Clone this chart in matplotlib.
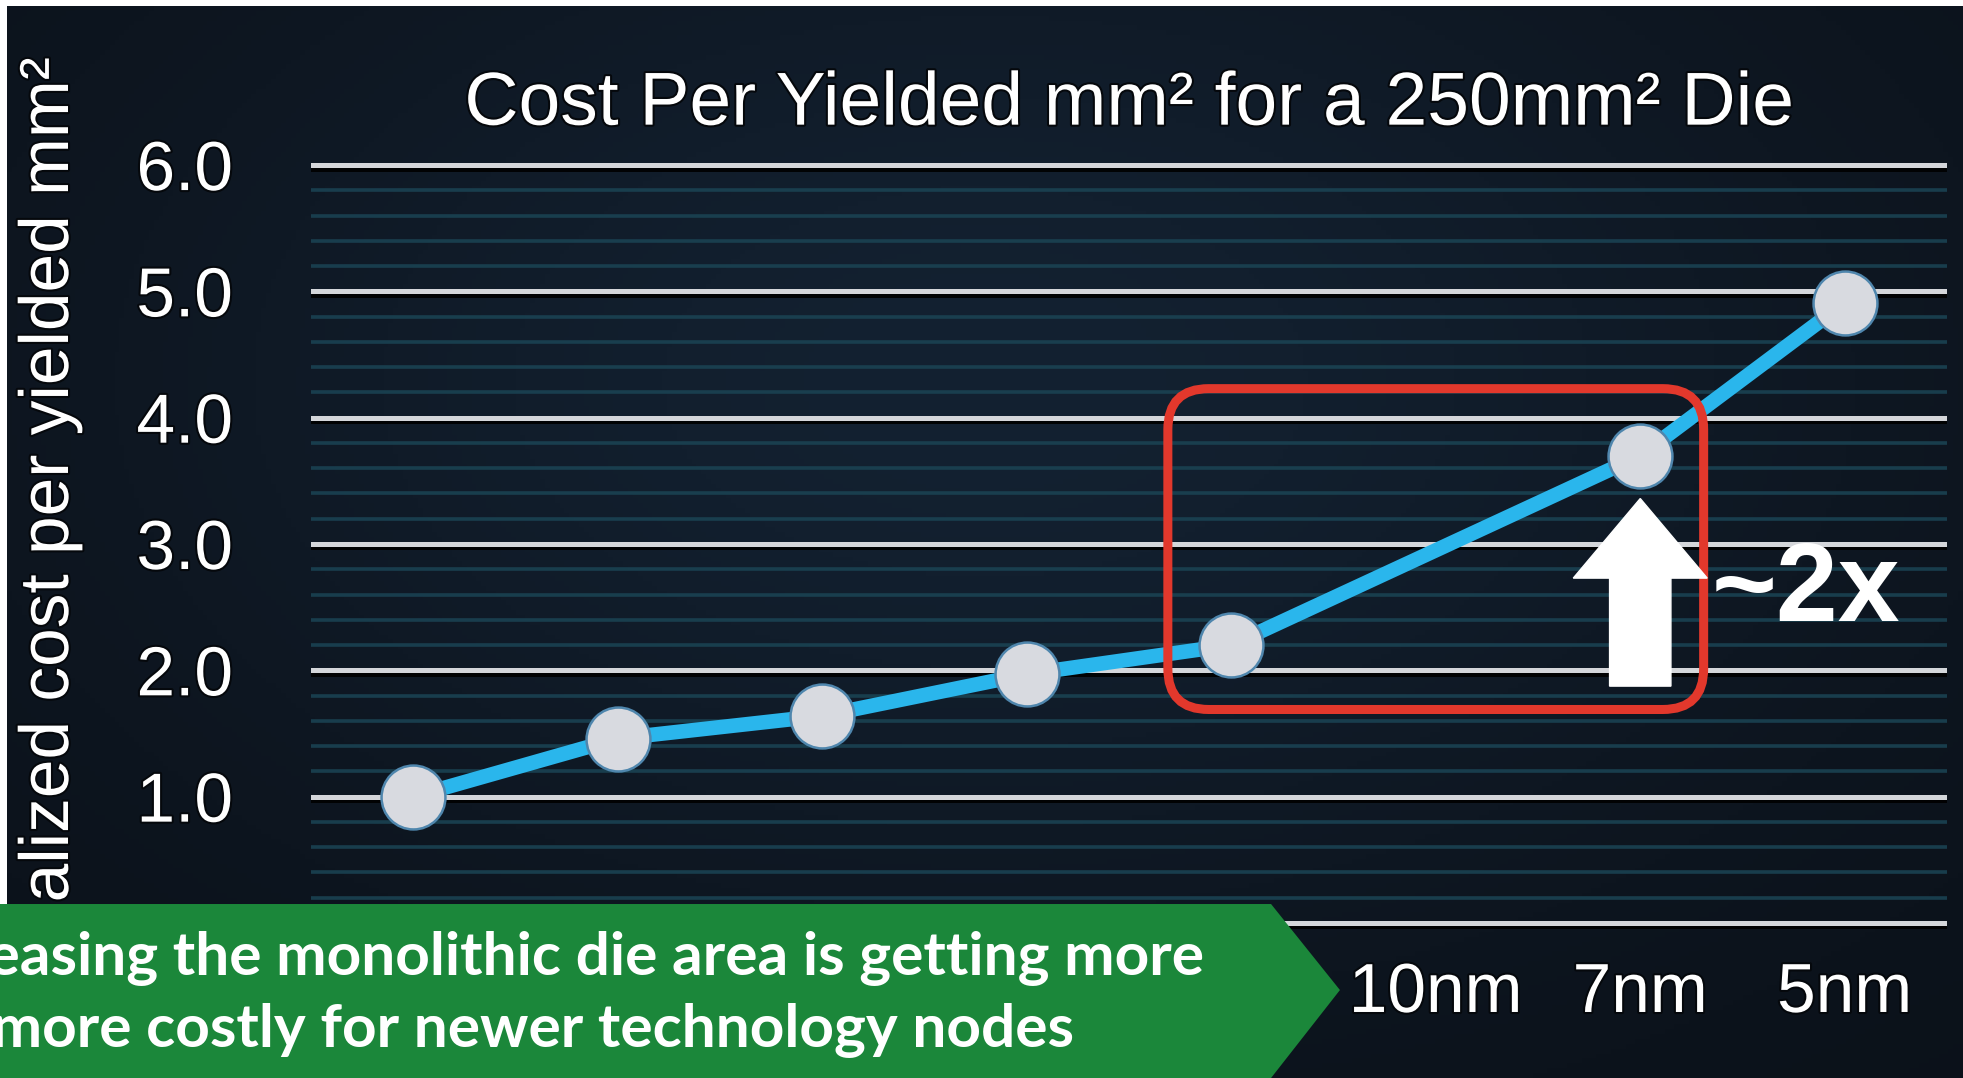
import numpy as np
from matplotlib import pyplot as plt
from matplotlib import patches
from matplotlib import patheffects as pe

# data (10nm has a label but no point)
nodes = ["", "", "", "", "", "10nm", "7nm", "5nm"]
cost = [1.0, 1.46, 1.64, 1.97, 2.20, None, 3.70, 4.91]
y_ticks = [1.0, 2.0, 3.0, 4.0, 5.0, 6.0]

plt.rcParams['font.family'] = ['Liberation Sans', 'DejaVu Sans']

W, H = 1963, 1078
fig = plt.figure(figsize=(W / 100, H / 100), dpi=100, facecolor='white')

# dark slide background with a soft blue glow
bg = fig.add_axes([7 / W, 0, 1 - 7 / W, 1 - 6 / H])
gx, gy = np.meshgrid(np.linspace(0, 1, 400), np.linspace(0, 1, 220))
glow = np.exp(-(((gx - 0.5) / 0.45) ** 2 + ((gy - 0.35) / 0.5) ** 2))
dark = np.array([11, 17, 25]) / 255
light = np.array([19, 33, 49]) / 255
img = dark + glow[..., None] * (light - dark)
bg.imshow(img, aspect='auto', extent=(0, 1, 0, 1), origin='upper')
bg.axis('off')

ax = fig.add_axes([311 / W, 0.1321, (1947 - 311) / W, 0.7265])
ax.set_facecolor('none')
ax.set_xlim(-0.5, 7.5)
ax.set_ylim(-0.1, 6.1)

# minor and major grid lines
for v in np.arange(0.2, 6.0, 0.2):
    if abs(v - round(v)) > 0.01:
        ax.axhline(v, color='#1a4252', lw=2.6, alpha=0.9, zorder=1)
shadow = [pe.SimpleLineShadow(offset=(0, -2.5), shadow_color='black', alpha=0.9), pe.Normal()]
for v in [0.0] + y_ticks:
    ax.axhline(v, color='#d4d6da', lw=3.6, zorder=2, path_effects=shadow)

xs = [i for i, c in enumerate(cost) if c is not None]
ys = [c for c in cost if c is not None]
ax.plot(xs, ys, color='#2ab6ec', lw=10.5, zorder=3)
ax.plot(xs, ys, 'o', ms=46, mfc='#d8dae0', mec='#4f86ad', mew=1.8, zorder=4,
        linestyle='none', clip_on=False)

ax.set_yticks(y_ticks)
ax.set_yticklabels([f"{v:.1f}" for v in y_ticks])
ax.set_xticks(range(len(nodes)))
ax.set_xticklabels(nodes)
ax.tick_params(axis='both', length=0, colors='white')
ax.tick_params(axis='y', labelsize=50, pad=56)
ax.tick_params(axis='x', labelsize=50, pad=19)
for s in ax.spines.values():
    s.set_visible(False)
txt_fx = [pe.withStroke(linewidth=3, foreground='#05080c')]
for lab in ax.get_xticklabels() + ax.get_yticklabels():
    lab.set_path_effects(txt_fx)

fig.text(50 / W, 1 - 56 / H, "Normalized cost per yielded mm²", rotation=90,
         ha='center', va='top', color='white', fontsize=50, path_effects=txt_fx)
ax.set_title("Cost Per Yielded mm² for a 250mm² Die", color='white', fontsize=54,
             pad=20, path_effects=txt_fx)

# red highlight box around 14/16nm -> 7nm
x0, x1 = 4 - 0.31, 6 + 0.31
y0, y1 = cost[4] - 0.51, cost[6] + 0.53
box = patches.FancyBboxPatch((x0, y0), x1 - x0, y1 - y0,
                             boxstyle="round,pad=0,rounding_size=0.2",
                             mutation_aspect=1.62, fill=False,
                             ec='#e2382c', lw=6.5, zorder=5)
ax.add_patch(box)

arrow = patches.FancyArrow(6, 1.875, 0, 1.485, width=0.30, head_width=0.655,
                           head_length=0.63, length_includes_head=True,
                           color='white', zorder=6)
ax.add_patch(arrow)
ax.text(6.81, 2.62, "~2x", color='white', fontsize=80, fontweight='bold',
        ha='center', va='center', zorder=6)

# green takeaway banner
banner = patches.Polygon([(0, 0.1614), (0.6475, 0.1614), (0.6826, 0.0816),
                          (0.6475, 0.0), (0, 0.0)], closed=True,
                         transform=fig.transFigure, fc='#1b873a', ec='none',
                         zorder=10)
fig.patches.append(banner)
fig.text(0.6134, 0.111, "Increasing the monolithic die area is getting more",
         ha='right', va='center', color='white', fontsize=43.5, fontweight='bold',
         family=['Lato', 'DejaVu Sans'], zorder=11)
fig.text(0.547, 0.0445, "and more costly for newer technology nodes",
         ha='right', va='center', color='white', fontsize=43.5, fontweight='bold',
         family=['Lato', 'DejaVu Sans'], zorder=11)

fig.savefig('out.png', dpi=100, facecolor=fig.get_facecolor())
